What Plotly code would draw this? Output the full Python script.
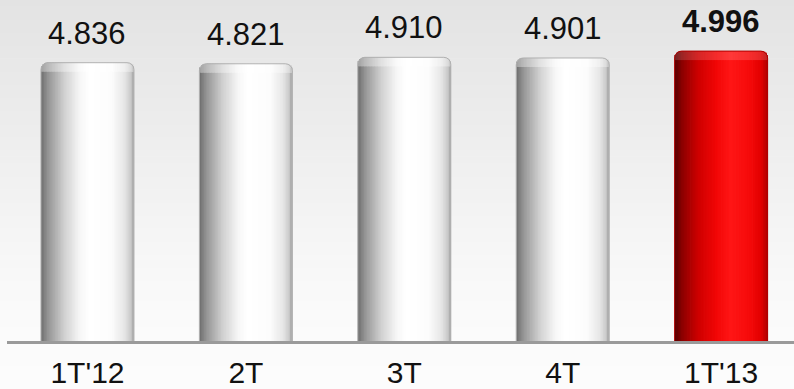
import plotly.graph_objects as go
import numpy as np

categories = ["1T'12", "2T", "3T", "4T", "1T'13"]
values = [4.836, 4.821, 4.910, 4.901, 4.996]
labels = ["4.836", "4.821", "4.910", "4.901", "4.996"]
highlight = [False, False, False, False, True]

FONT = "Liberation Sans, Arial, sans-serif"
N = 60
BAR_W = 0.587
X_RANGE = [-0.508, 4.46]
Y_RANGE = [1.0, 5.70]
PLOT_W = 794 - 7
PLOT_H = 389 - 48
PX_X = PLOT_W / (X_RANGE[1] - X_RANGE[0])
PX_Y = PLOT_H / (Y_RANGE[1] - Y_RANGE[0])
RADIUS = 7.0
CAP = 9.0

white_stops = [(0.0, (110, 110, 110)), (0.08, (150, 150, 150)), (0.25, (208, 208, 208)),
               (0.42, (247, 247, 247)), (0.52, (255, 255, 255)), (0.76, (252, 252, 252)),
               (0.9, (230, 230, 230)), (0.97, (200, 200, 200)), (1.0, (165, 165, 165))]
red_stops = [(0.0, (85, 0, 0)), (0.08, (140, 0, 0)), (0.25, (205, 0, 0)), (0.45, (242, 6, 6)),
             (0.6, (255, 22, 22)), (0.8, (246, 10, 10)), (0.93, (226, 0, 0)), (1.0, (175, 0, 0))]


def interp(stops, t, lighten=0.0):
    ts = [s[0] for s in stops]
    rgb = [np.interp(t, ts, [s[1][k] for s in stops]) for k in range(3)]
    rgb = [int(round(c + (255 - c) * lighten)) for c in rgb]
    return "rgb(%d,%d,%d)" % tuple(rgb)


fig = go.Figure()

sw = BAR_W / N
bar_px = BAR_W * PX_X
strips = []
for i in range(N):
    t = (i + 0.5) / N
    d = min(t, 1 - t) * bar_px
    drop = 0.0
    if d < RADIUS:
        drop = RADIUS - np.sqrt(max(RADIUS ** 2 - (RADIUS - d) ** 2, 0.0))
    w = sw * 1.5 if i < N - 1 else sw
    off = -BAR_W / 2 + i * sw
    tops = [v - drop / PX_Y for v in values]
    strips.append((t, drop, w, off, tops))

# cylinder body
for t, drop, w, off, tops in strips:
    cols = [interp(red_stops if h else white_stops, t) for h in highlight]
    fig.add_trace(go.Bar(
        x=categories, y=tops, width=w, offset=off,
        marker=dict(color=cols, line=dict(width=0)),
        hoverinfo="skip", showlegend=False,
    ))

# lighter cap band at the top of each cylinder
for t, drop, w, off, tops in strips:
    cap_cols = [interp(red_stops if h else white_stops, t, 0.15 if h else 0.35) for h in highlight]
    cap_len = max(CAP - drop, 0.0) / PX_Y
    fig.add_trace(go.Bar(
        x=categories, y=[cap_len] * len(values), base=[tp - cap_len for tp in tops],
        width=w, offset=off,
        marker=dict(color=cap_cols, line=dict(width=0)),
        hoverinfo="skip", showlegend=False,
    ))

# outline
fig.add_trace(go.Bar(
    x=categories, y=values, width=BAR_W, offset=-BAR_W / 2,
    marker=dict(color="rgba(0,0,0,0)", cornerradius=RADIUS,
                line=dict(width=1, color=["#b0b0b0" if not h else "#b00000" for h in highlight])),
    hoverinfo="skip", showlegend=False,
))

for c, v, lab, h in zip(categories, values, labels, highlight):
    fig.add_annotation(
        x=c, y=v, text=("<b>%s</b>" % lab) if h else lab, showarrow=False,
        yanchor="bottom", yshift=10,
        font=dict(family=FONT, size=31, color="#111111"),
    )

# background gradient
shapes = []
M = 60
y_lo, y_hi = -0.15, 1.0
for k in range(M):
    y0 = y_lo + (y_hi - y_lo) * k / M
    y1 = y_lo + (y_hi - y_lo) * (k + 1) / M
    ym = (y0 + y1) / 2
    g = int(round(np.interp(ym, [-0.15, 0.0, 0.15, 1.0], [252, 251, 249, 227])))
    shapes.append(dict(type="rect", xref="paper", yref="paper", x0=-0.02, x1=1.02,
                       y0=y0, y1=y1 + 0.002, fillcolor="rgb(%d,%d,%d)" % (g, g, g),
                       line=dict(width=0), layer="below"))

fig.update_layout(
    width=794, height=389,
    margin=dict(l=7, r=0, t=0, b=48),
    barmode="overlay",
    paper_bgcolor="#fcfcfc",
    plot_bgcolor="rgba(0,0,0,0)",
    shapes=shapes,
    xaxis=dict(type="category", range=X_RANGE, showline=True, linecolor="#9a9a9a",
               linewidth=3, ticks="", showgrid=False, zeroline=False,
               tickfont=dict(family=FONT, size=30, color="#111111"), automargin=False,
               ticklabelstandoff=3),
    yaxis=dict(range=Y_RANGE, visible=False, showgrid=False, zeroline=False),
    showlegend=False,
)

fig.write_html("out.html")
